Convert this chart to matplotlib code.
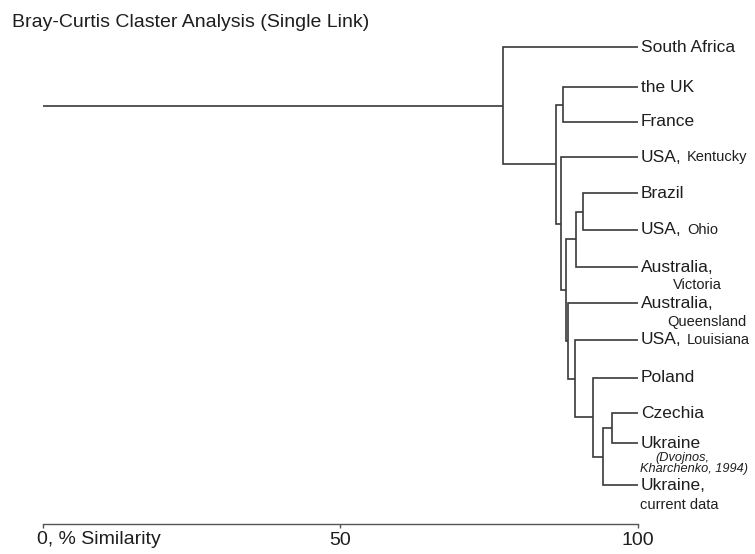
import matplotlib
matplotlib.use("Agg")
import matplotlib.pyplot as plt

plt.rcParams['font.family'] = ['Liberation Sans', 'DejaVu Sans']

# leaves, top to bottom
leaves = ["South Africa", "the UK", "France", "USA,", "Brazil", "USA,",
          "Australia,", "Australia,", "USA,", "Poland", "Czechia",
          "Ukraine", "Ukraine,"]
# small second part of some labels: (leaf index, text, dx px, dy px, italic)
sublabels = [
    (3, "Kentucky", 46, 0, False),
    (5, "Ohio", 46, 0, False),
    (6, "Victoria", 32, 18, False),
    (7, "Queensland", 26, 19, False),
    (8, "Louisiana", 46, 0, False),
    (11, "(Dvojnos,", 14, 15, True),
    (11, "Kharchenko, 1994)", -1, 26, True),
    (12, "current data", -1, 20, False),
]

# merges: (left node, right node, % similarity); new nodes numbered from 13
merges = [
    (10, 11, 95.6),
    (13, 12, 94.1),
    (9, 14, 92.4),
    (4, 5, 90.8),
    (16, 6, 89.6),
    (8, 15, 89.4),
    (7, 18, 88.2),
    (1, 2, 87.4),
    (17, 19, 87.9),
    (3, 21, 87.0),
    (20, 22, 86.2),
    (0, 23, 77.3),
]

xticks = [0, 50, 100]
xticklabels = ["", "50", "100"]

W, H = 755, 554
fig = plt.figure(figsize=(W / 100, H / 100), dpi=100)
x0, x1 = 42.7, 638
ytop, ybot = 30, 524
ax = fig.add_axes([x0 / W, (H - ybot) / H, (x1 - x0) / W, (ybot - ytop) / H])

# row layout (pixels from top), rows are not quite evenly spaced in the original
leaf_y = [47, 87, 122, 157, 193, 230, 267, 303, 340, 378, 413, 443, 485]

lc = "#3a3a3a"
lw = 1.2
n = len(leaves)
pos = {i: (100.0, float(leaf_y[i])) for i in range(n)}
for k, (a, b, s) in enumerate(merges):
    xa, ya = pos[a]
    xb, yb = pos[b]
    ax.plot([xa, s, s, xb], [ya, ya, yb, yb], color=lc, lw=lw,
            solid_joinstyle="miter", solid_capstyle="butt")
    pos[n + k] = (s, (ya + yb) / 2)

# root stub
rs, ry = pos[n + len(merges) - 1]
ax.plot([0, rs], [ry, ry], color=lc, lw=lw, solid_capstyle="butt")

# leaf labels
tc = "#1e1e1e"
for i, lab in enumerate(leaves):
    ax.annotate(lab, xy=(100, leaf_y[i]), xytext=(3, 0), textcoords="offset pixels",
                ha="left", va="center", fontsize=12.5, color=tc)
for i, txt, dx, dy, it in sublabels:
    ax.annotate(txt, xy=(100, leaf_y[i]), xytext=(3 + dx, -dy),
                textcoords="offset pixels", ha="left", va="center",
                fontsize=9.2 if it else 10.5,
                style="italic" if it else "normal", color=tc)

ax.set_ylim(ybot, ytop)
ax.set_xlim(0, 100)
for sp in ["top", "right", "left"]:
    ax.spines[sp].set_visible(False)
ax.spines["bottom"].set_color("#555555")
ax.spines["bottom"].set_linewidth(1.0)
ax.set_yticks([])
ax.set_xticks(xticks)
ax.set_xticklabels(xticklabels, fontsize=14, color=tc)
ax.tick_params(axis="x", length=3, width=1.0, color="#555555", pad=3)
ax.annotate("0, % Similarity", xy=(0, 0), xycoords=("data", "axes fraction"),
            xytext=(-6, -7), textcoords="offset pixels", ha="left", va="top",
            fontsize=14, color=tc)

fig.text(12 / W, 1 - 27 / H, "Bray-Curtis Claster Analysis (Single Link)",
         fontsize=14, color=tc, ha="left", va="baseline")

fig.savefig("out.png", dpi=100)
